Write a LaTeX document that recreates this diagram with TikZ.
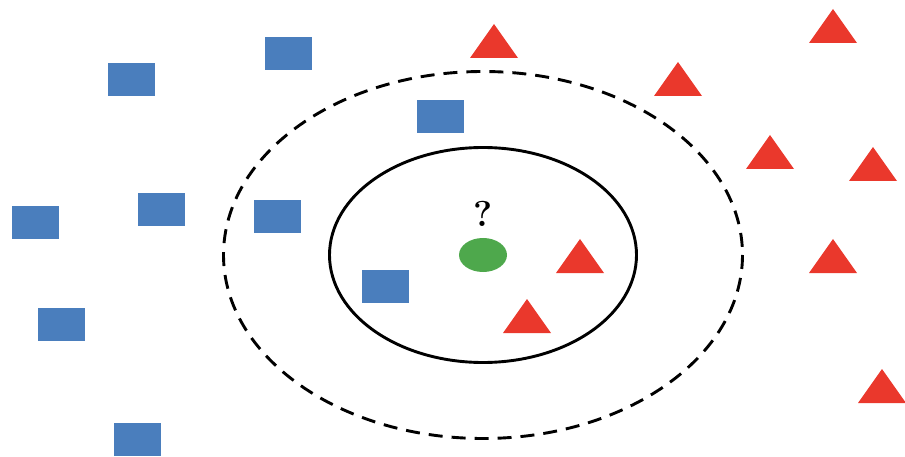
\documentclass[tikz,border=0pt]{standalone}
\usepackage{tikz}
\definecolor{sqblue}{RGB}{74,126,189}
\definecolor{trired}{RGB}{234,56,44}
\definecolor{ptgreen}{RGB}{78,168,76}
\tikzset{
  sq/.style={fill=sqblue},
  tri/.style={fill=trired},
  knear/.style={line width=2.9pt},
  kfar/.style={line width=2.9pt,dash pattern=on 14pt off 9pt}
}
\begin{document}
\begin{tikzpicture}[x=1pt,y=-1pt]
                \useasboundingbox (0,0) rectangle (905,457); %枠

                \coordinate (O) at (483,255); %中心
                \draw[kfar] (O) ellipse [x radius=259.5, y radius=183.5]; %外側 (点線)
                \draw[knear] (O) ellipse [x radius=153.5, y radius=107.5]; %内側

                \coordinate (S1) at (131,80); %四角
                \coordinate (S2) at (288,54);
                \coordinate (S3) at (440,117);
                \coordinate (S4) at (35,223);
                \coordinate (S5) at (161,210);
                \coordinate (S6) at (277,217);
                \coordinate (S7) at (385,286);
                \coordinate (S8) at (61,324);
                \coordinate (S9) at (137,439);
                \foreach \P in {S1,S2,S3,S4,S5,S6,S7,S8,S9} \fill[sq] (\P) ++(-23.5,-16.5) rectangle ++(47,33);

                \coordinate (T1) at (494,41); %三角
                \coordinate (T2) at (678,79);
                \coordinate (T3) at (833,26);
                \coordinate (T4) at (770,152);
                \coordinate (T5) at (873,164);
                \coordinate (T6) at (580,256);
                \coordinate (T7) at (833,256);
                \coordinate (T8) at (527,316);
                \coordinate (T9) at (882,386);
                \foreach \P in {T1,T2,T3,T4,T5,T6,T7,T8,T9} \fill[tri] (\P) ++(-24,17) -- ++(48,0) -- ++(-24,-34) -- cycle;

                \fill[ptgreen] (O) ellipse [x radius=24, y radius=17]; %未知の点
                \node[font=\fontsize{36}{38}\selectfont\bfseries] (Q) at (483,214) {?};

\end{tikzpicture}
\end{document}
